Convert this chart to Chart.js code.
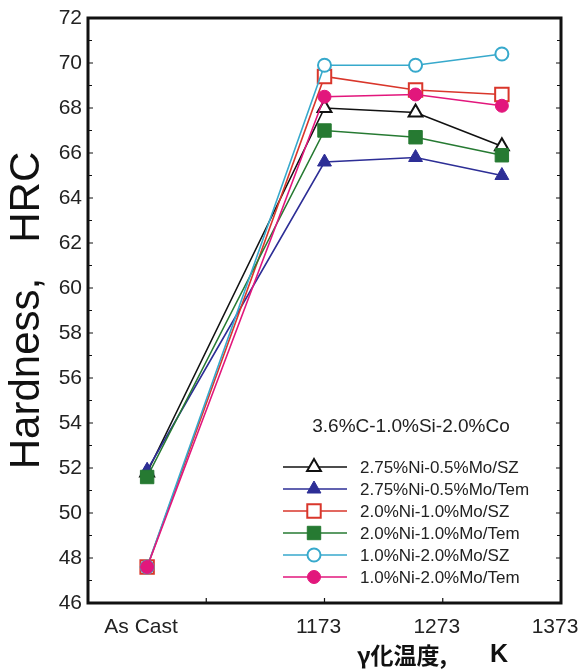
<!DOCTYPE html>
<html lang="ja">
<head>
  <meta charset="UTF-8" />
  <title>Hardness vs austenitizing temperature</title>
  <script src="https://cdn.jsdelivr.net/npm/chart.js"></script>
  <style>
    body {
      margin: 0;
      background: #ffffff;
    }
    canvas {
      display: block;
    }
  </style>
</head>
<body>
  <canvas id="hardnessChart" width="582" height="669"></canvas>

  <script>
    // x: "As Cast" is plotted at 1023 so it sits half a division left of 1073
    const xPositions = [1023, 1173, 1250, 1323];
    const xTickValues = [1023, 1073, 1173, 1273, 1373];
    const xTickLabels = ['As Cast', '', '1173', '1273', '1373'];
    const xInnerTicks = [1073, 1173, 1273];

    const yMin = 46;
    const yMax = 72;
    const yStep = 2;

    const seriesNames = [
      '2.75%Ni-0.5%Mo/SZ',
      '2.75%Ni-0.5%Mo/Tem',
      '2.0%Ni-1.0%Mo/SZ',
      '2.0%Ni-1.0%Mo/Tem',
      '1.0%Ni-2.0%Mo/SZ',
      '1.0%Ni-2.0%Mo/Tem'
    ];
    const ni275SZ  = [51.8, 68.0, 67.8, 66.3];
    const ni275Tem = [51.9, 65.6, 65.8, 65.0];
    const ni20SZ   = [47.6, 69.4, 68.8, 68.6];
    const ni20Tem  = [51.6, 67.0, 66.7, 65.9];
    const ni10SZ   = [47.6, 69.9, 69.9, 70.4];
    const ni10Tem  = [47.6, 68.5, 68.6, 68.1];

    const legendTitle = '3.6%C-1.0%Si-2.0%Co';
    const yTitle = 'Hardness,   HRC';
    const xTitle = 'γ化温度,';
    const xUnit = 'K';

    const sansFont = "'Liberation Sans', Arial, sans-serif";

    function toPoints(values) {
      return xPositions.map((x, i) => ({ x: x, y: values[i] }));
    }

    // style per series: colour, marker, hollow or filled, stacking order
    function makeDataset(label, values, color, style, radius, hollow, order) {
      return {
        label: label,
        data: toPoints(values),
        borderColor: color,
        borderWidth: 1.6,
        pointStyle: style,
        pointRadius: radius,
        pointBackgroundColor: hollow ? '#ffffff' : color,
        pointBorderColor: color,
        pointBorderWidth: hollow ? 2 : 1,
        fill: false,
        tension: 0,
        order: order
      };
    }

    const datasets = [
      makeDataset(seriesNames[0], ni275SZ,  '#111111', 'triangle', 8,   true,  5),
      makeDataset(seriesNames[1], ni275Tem, '#2d2e96', 'triangle', 8,   false, 4),
      makeDataset(seriesNames[2], ni20SZ,   '#d9362b', 'rect',     9.5, true,  3),
      makeDataset(seriesNames[3], ni20Tem,  '#267a32', 'rect',     9.5, false, 2),
      makeDataset(seriesNames[4], ni10SZ,   '#37a9cc', 'circle',   6.5, true,  1),
      makeDataset(seriesNames[5], ni10Tem,  '#e2177c', 'circle',   6.5, false, 0)
    ];

    // black frame plus the small inward ticks on all sides
    const framePlugin = {
      id: 'frame',
      beforeDatasetsDraw(chart) {
        const { ctx, chartArea: a, scales } = chart;
        ctx.save();
        ctx.strokeStyle = '#111';
        ctx.lineWidth = 1.2;
        ctx.beginPath();
        for (let v = yMin + 1; v < yMax; v++) {
          const y = scales.y.getPixelForValue(v);
          const len = v % 2 === 0 ? 5 : 4;
          ctx.moveTo(a.left, y);
          ctx.lineTo(a.left + len, y);
          ctx.moveTo(a.right, y);
          ctx.lineTo(a.right - len, y);
        }
        xInnerTicks.forEach(v => {
          const x = scales.x.getPixelForValue(v);
          ctx.moveTo(x, a.bottom);
          ctx.lineTo(x, a.bottom - 5);
        });
        ctx.stroke();
        ctx.lineWidth = 3;
        ctx.strokeRect(a.left, a.top, a.right - a.left, a.bottom - a.top);
        ctx.restore();
      }
    };

    // legend box inside the plot, and the x axis title
    const notesPlugin = {
      id: 'notes',
      afterDraw(chart) {
        const ctx = chart.ctx;
        ctx.save();
        ctx.fillStyle = '#222';
        ctx.font = '19px ' + sansFont;
        ctx.textAlign = 'center';
        ctx.textBaseline = 'middle';
        ctx.fillText(legendTitle, 411, 427);

        ctx.textAlign = 'left';
        ctx.font = '17px ' + sansFont;
        chart.data.datasets.forEach((ds, i) => {
          const y = 467 + i * 22;
          ctx.strokeStyle = ds.borderColor;
          ctx.lineWidth = ds.borderWidth;
          ctx.beginPath();
          ctx.moveTo(283, y);
          ctx.lineTo(347, y);
          ctx.stroke();
          ctx.fillStyle = ds.pointBackgroundColor;
          ctx.strokeStyle = ds.pointBorderColor;
          ctx.lineWidth = ds.pointBorderWidth;
          Chart.helpers.drawPoint(ctx, {
            pointStyle: ds.pointStyle,
            radius: ds.pointRadius,
            borderWidth: ds.pointBorderWidth,
            rotation: 0
          }, 314, y);
          ctx.fillStyle = '#222';
          ctx.fillText(ds.label, 360, y + 1);
        });

        ctx.fillStyle = '#111';
        ctx.font = "bold 23px 'Noto Sans CJK JP', sans-serif";
        ctx.fillText(xTitle, 357, 655);
        ctx.font = 'bold 25px ' + sansFont;
        ctx.fillText(xUnit, 490, 655);
        ctx.restore();
      }
    };

    const ctx = document.getElementById('hardnessChart').getContext('2d');
    const chart = new Chart(ctx, {
      type: 'line',
      data: { datasets: datasets },
      options: {
        responsive: false,
        animation: false,
        layout: {
          padding: { top: 18, right: 21, left: 0, bottom: 0 }
        },
        plugins: {
          legend: { display: false },
          tooltip: { enabled: false }
        },
        scales: {
          x: {
            type: 'linear',
            min: 973,
            max: 1373,
            afterBuildTicks: scale => {
              scale.ticks = xTickValues.map(v => ({ value: v }));
            },
            afterFit: scale => {
              scale.height = 66;
              scale.paddingLeft = 0;
              scale.paddingRight = 0;
            },
            grid: { display: false, drawTicks: false },
            border: { display: false },
            ticks: {
              autoSkip: false,
              maxRotation: 0,
              padding: 12,
              labelOffset: -6,
              color: '#222',
              font: { family: sansFont, size: 21 },
              callback: value => {
                const i = xTickValues.indexOf(value);
                return i >= 0 ? xTickLabels[i] : '';
              }
            }
          },
          y: {
            min: yMin,
            max: yMax,
            afterFit: scale => {
              scale.width = 88;
              scale.paddingTop = 0;
              scale.paddingBottom = 0;
            },
            grid: { display: false, drawTicks: false },
            border: { display: false },
            ticks: {
              stepSize: yStep,
              padding: 6,
              color: '#222',
              font: { family: sansFont, size: 21 }
            },
            title: {
              display: true,
              text: yTitle,
              color: '#111',
              padding: { top: 2, bottom: 0 },
              font: { family: sansFont, size: 42, lineHeight: 1.2 }
            }
          }
        }
      },
      plugins: [framePlugin, notesPlugin]
    });
  </script>
</body>
</html>
